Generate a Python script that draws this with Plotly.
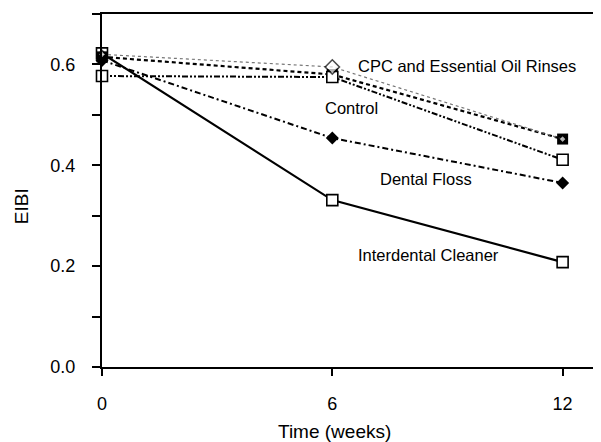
import plotly.graph_objects as go

weeks = [0, 6, 12]
interdental = [0.622, 0.331, 0.208]
dental_floss = [0.608, 0.454, 0.365]
control = [0.577, 0.575, 0.411]
essential_oil = [0.615, 0.58, 0.452]
cpc = [0.62, 0.595, 0.452]

y_ticks = [0.0, 0.2, 0.4, 0.6]
y_minor = [0.1, 0.3, 0.5, 0.7]
x_ticks = [0, 6, 12]

labels = ["CPC and Essential Oil Rinses", "Control", "Dental Floss", "Interdental Cleaner"]
label_x = [6.61, 5.76, 7.19, 6.61]
label_y = [0.597, 0.514, 0.373, 0.222]

fig = go.Figure()

fig.add_trace(go.Scatter(x=weeks, y=interdental, mode="lines+markers",
                         line=dict(color="black", width=2.2, dash="solid"),
                         marker=dict(symbol="square", size=11, color="white",
                                     line=dict(color="black", width=1.6))))
fig.add_trace(go.Scatter(x=weeks, y=dental_floss, mode="lines+markers",
                         line=dict(color="black", width=2, dash="6px,3px,2px,3px"),
                         marker=dict(symbol="diamond", size=10, color="black")))
fig.add_trace(go.Scatter(x=weeks, y=essential_oil, mode="lines+markers",
                         line=dict(color="black", width=2.2, dash="4px,3px"),
                         marker=dict(symbol="square", size=11, color="black")))
fig.add_trace(go.Scatter(x=weeks, y=control, mode="lines+markers",
                         line=dict(color="black", width=2, dash="6px,2px,2px,2px,2px,2px"),
                         marker=dict(symbol="square", size=11, color="white",
                                     line=dict(color="black", width=1.6))))
fig.add_trace(go.Scatter(x=weeks, y=cpc, mode="lines+markers",
                         line=dict(color="#777777", width=1.2, dash="dot"),
                         marker=dict(symbol="diamond", size=[6, 11, 6], color="white",
                                     line=dict(color="black", width=1.6))))

for t, xx, yy in zip(labels, label_x, label_y):
    fig.add_annotation(x=xx, y=yy, text=t, showarrow=False, xanchor="left",
                       yanchor="middle", font=dict(size=16.5, color="black"))

fig.add_annotation(text="Time (weeks)", xref="x", yref="paper", x=6.06, y=-0.184,
                   showarrow=False, xanchor="center", yanchor="middle",
                   font=dict(size=19, color="black"))
fig.add_annotation(text="EIBI", xref="paper", yref="paper", x=-0.162, y=0.456,
                   showarrow=False, xanchor="center", yanchor="middle", textangle=-90,
                   font=dict(size=19, color="black"))

fig.update_traces(cliponaxis=False, showlegend=False)

# the page body adds an 8px offset, so the figure is 8px smaller and shifted
fig.update_layout(
    width=593, height=434,
    margin=dict(l=94, r=0, t=6, b=75, autoexpand=False),
    plot_bgcolor="white", paper_bgcolor="white",
    font=dict(family="Liberation Sans, Arial, sans-serif", size=18, color="black"),
    showlegend=False,
    xaxis=dict(range=[0, 13], tickvals=x_ticks, ticktext=[str(v) for v in x_ticks],
               showline=True, linecolor="black", linewidth=2, mirror=True,
               ticks="outside", ticklen=7, tickcolor="black", tickwidth=1.5,
               ticklabelstandoff=12, showgrid=False, zeroline=False, automargin=False),
    yaxis=dict(range=[0, 0.7], tickvals=y_ticks, ticktext=[f"{v:.1f}" for v in y_ticks],
               showline=True, linecolor="black", linewidth=2,
               ticks="outside", ticklen=8, tickcolor="black", tickwidth=1.5,
               ticklabelstandoff=13, showgrid=False, zeroline=False, automargin=False,
               minor=dict(tickvals=y_minor, ticks="outside", ticklen=8,
                          tickcolor="black", tickwidth=1.5, showgrid=False)),
)

fig.write_html("out.html")
